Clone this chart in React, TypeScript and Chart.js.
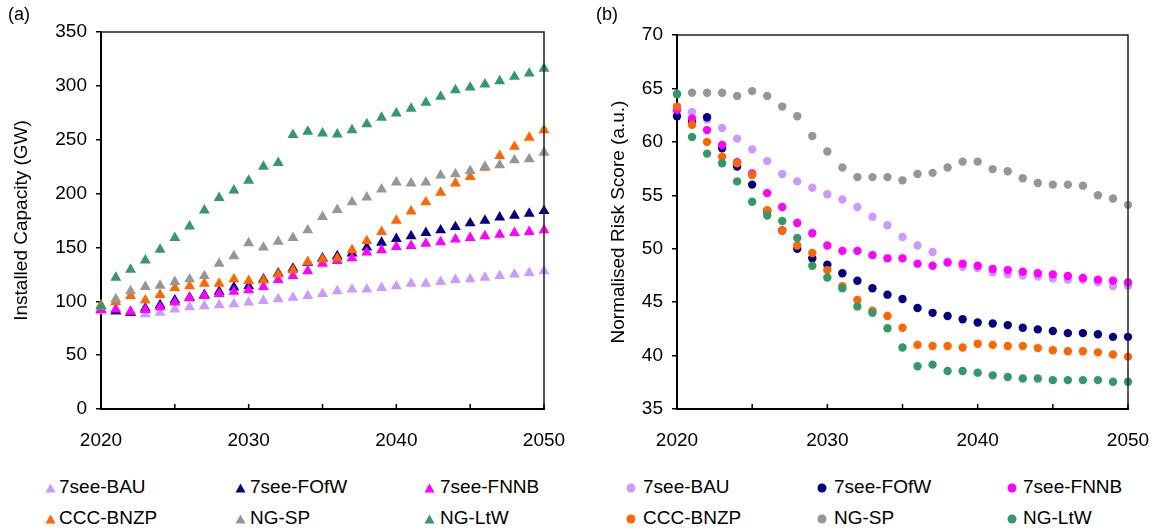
import React, { useEffect, useRef } from "react";
import { Chart, registerables } from "chart.js";

Chart.register(...registerables);

// ---------- data ----------
const years = [
  2020, 2021, 2022, 2023, 2024, 2025, 2026, 2027, 2028, 2029, 2030,
  2031, 2032, 2033, 2034, 2035, 2036, 2037, 2038, 2039, 2040,
  2041, 2042, 2043, 2044, 2045, 2046, 2047, 2048, 2049, 2050,
];

const seriesNames = ["7see-BAU", "7see-FOfW", "7see-FNNB", "CCC-BNZP", "NG-SP", "NG-LtW"];
const seriesColors = ["#CC99FF", "#000080", "#FF00FF", "#FF6600", "#969696", "#339966"];

// (a) Installed Capacity (GW)
const capBAU = [91, 90.5, 89, 88, 89.5, 92.5, 94.5, 95.5, 96.5, 97.5, 99, 100.5, 102, 103.5, 105, 107, 109.5, 111, 111, 112.5, 114, 116.5, 116.5, 118, 120, 120.5, 122, 123.5, 125, 126.5, 128];
const capFOfW = [92, 91, 89.5, 93.5, 96.5, 101, 103.5, 106, 109, 113, 114, 120.5, 126, 130.5, 136, 140, 142, 144.5, 150, 154.5, 158, 160.5, 163.5, 166, 169, 172.5, 175, 178, 179.5, 181.5, 184];
const capFNNB = [92, 92.5, 90.5, 92, 94.5, 99, 103, 105, 107, 109, 110.5, 113.5, 120, 123.5, 128, 135, 137.5, 140, 145.5, 147.5, 150.5, 151.5, 153.5, 155, 157.5, 159, 160.5, 162, 163.5, 164.5, 166];
const capBNZP = [96.5, 99.5, 105, 101, 106, 112.5, 114, 116.5, 116.5, 120.5, 119, 119.5, 125, 129, 136.5, 139, 140, 147.5, 156, 164.5, 175, 183.5, 192, 201, 209.5, 215.5, 224, 235, 243.5, 252, 259];
const capSP = [95, 102, 109.5, 113.5, 114.5, 118, 120.5, 123.5, 135, 142, 154, 150, 155.5, 159, 166, 178.5, 185, 192, 196.5, 204, 210.5, 209.5, 210.5, 217, 218, 221, 225, 226.5, 231, 232, 238];
const capLtW = [95.5, 122, 129.5, 138, 148, 159, 169.5, 184.5, 196, 203, 212, 225, 228.5, 254.5, 257.5, 256, 255, 259, 264.5, 270.5, 274.5, 279, 284.5, 290, 296, 298.5, 301.5, 304.5, 308.5, 311.5, 316];

// (b) Normalised Risk Score (a.u.)
const riskBAU = [62.9, 62.8, 62.1, 61.3, 60.3, 59.3, 58.2, 57.0, 56.3, 55.7, 55.1, 54.6, 53.9, 53.0, 52.2, 51.1, 50.3, 49.7, 48.8, 48.3, 48.2, 47.8, 47.6, 47.5, 47.4, 47.2, 47.1, 47.1, 46.85, 46.5, 46.5];
const riskFOfW = [62.4, 61.9, 62.3, 59.4, 57.7, 56.0, 53.5, 51.7, 50.0, 49.1, 48.5, 47.7, 47.0, 46.3, 45.7, 45.3, 44.45, 44.0, 43.7, 43.4, 43.1, 43.0, 42.85, 42.6, 42.45, 42.3, 42.1, 42.1, 42.0, 41.75, 41.75];
const riskFNNB = [63.0, 62.2, 61.1, 59.7, 58.1, 57.05, 55.2, 53.9, 52.4, 51.45, 50.3, 49.8, 49.8, 49.4, 49.1, 49.1, 48.6, 48.4, 48.7, 48.6, 48.4, 48.1, 48.0, 47.85, 47.7, 47.6, 47.45, 47.26, 47.1, 47.0, 46.85];
const riskBNZP = [63.3, 61.6, 60.0, 58.6, 58.0, 56.9, 53.6, 51.7, 50.3, 49.6, 48.0, 46.5, 45.2, 44.2, 43.7, 42.6, 41.0, 40.9, 40.9, 40.75, 41.1, 41.0, 40.9, 40.9, 40.7, 40.5, 40.4, 40.4, 40.3, 40.1, 39.9];
const riskSP = [64.5, 64.6, 64.6, 64.6, 64.3, 64.75, 64.3, 63.3, 62.4, 60.55, 59.1, 57.6, 56.7, 56.7, 56.7, 56.4, 57.0, 57.1, 57.6, 58.15, 58.15, 57.45, 57.25, 56.6, 56.15, 56.0, 56.0, 55.9, 55.0, 54.7, 54.1];
const riskLtW = [64.45, 60.45, 58.9, 58.0, 56.3, 54.4, 53.1, 52.6, 51.0, 48.4, 47.3, 46.3, 44.6, 44.0, 42.55, 40.75, 39.0, 39.15, 38.55, 38.55, 38.4, 38.15, 38.0, 37.85, 37.85, 37.7, 37.7, 37.7, 37.7, 37.55, 37.55];

const xTickMarks = [2020, 2025, 2030, 2035, 2040, 2045, 2050];

const capSeries = [capBAU, capFOfW, capFNNB, capBNZP, capSP, capLtW];
const riskSeries = [riskBAU, riskFOfW, riskFNNB, riskBNZP, riskSP, riskLtW];

// ---------- style ----------
const FONT = '"Liberation Sans", Arial, Helvetica, sans-serif';
const FS = 19;

const framePlugin = {
  id: "frame",
  afterDatasetsDraw(chart: any) {
    const { ctx, chartArea: a, scales } = chart;
    ctx.save();
    ctx.strokeStyle = "#222";
    ctx.lineWidth = 1.5;
    ctx.beginPath();
    ctx.moveTo(a.left, a.top);
    ctx.lineTo(a.right, a.top);
    ctx.lineTo(a.right, a.bottom);
    ctx.stroke();
    ctx.strokeStyle = "#000";
    ctx.lineWidth = 1.5;
    for (const v of xTickMarks) {
      const px = scales.x.getPixelForValue(v);
      ctx.beginPath();
      ctx.moveTo(px, a.bottom);
      ctx.lineTo(px, a.bottom - 5);
      ctx.stroke();
    }
    ctx.restore();
  },
};

function makeConfig(
  series: number[][],
  pointStyle: string,
  radius: number,
  yMin: number,
  yMax: number,
  yStep: number,
  yTitle: string,
  yWidth: number,
  titlePad: number,
  pad: { top: number; right: number }
): any {
  return {
    type: "scatter",
    data: {
      datasets: series.map((vals, i) => ({
        label: seriesNames[i],
        data: years.map((yr, j) => ({ x: yr, y: vals[j] })),
        pointStyle,
        pointRadius: radius,
        pointHoverRadius: radius,
        backgroundColor: seriesColors[i],
        borderColor: seriesColors[i],
        borderWidth: 0,
        showLine: false,
        clip: false,
        order: 5 - i,
      })),
    },
    options: {
      responsive: false,
      animation: false,
      events: [],
      layout: { padding: { top: pad.top, right: pad.right, left: 0, bottom: 0 } },
      plugins: { legend: { display: false }, tooltip: { enabled: false } },
      scales: {
        x: {
          type: "linear",
          min: 2020,
          max: 2050,
          afterFit: (s: any) => {
            s.height = 51;
            s.paddingLeft = 0;
            s.paddingRight = 0;
          },
          ticks: {
            stepSize: 10,
            padding: 20,
            color: "#000",
            font: { family: FONT, size: FS },
            callback: (v: any) => String(v),
            maxRotation: 0,
          },
          grid: { display: false, drawTicks: false },
          border: { display: true, color: "#000", width: 2 },
        },
        y: {
          type: "linear",
          min: yMin,
          max: yMax,
          afterFit: (s: any) => {
            s.width = yWidth;
            s.paddingTop = 0;
            s.paddingBottom = 0;
          },
          ticks: {
            stepSize: yStep,
            padding: 9,
            color: "#000",
            font: { family: FONT, size: FS },
            callback: (v: any) => String(v),
          },
          grid: {
            display: true,
            drawOnChartArea: false,
            drawTicks: true,
            tickLength: 5,
            color: "#000",
            lineWidth: 1.5,
          },
          border: { display: true, color: "#000", width: 2 },
          title: {
            display: true,
            text: yTitle,
            color: "#000",
            font: { family: FONT, size: FS },
            padding: { top: titlePad, bottom: 0 },
          },
        },
      },
    },
    plugins: [framePlugin],
  };
}

function ChartCanvas({ config, left, width, height }: any) {
  const ref = useRef<HTMLCanvasElement | null>(null);
  useEffect(() => {
    if (!ref.current) return;
    const chart = new Chart(ref.current, config);
    return () => chart.destroy();
  }, []);
  return (
    <canvas
      ref={ref}
      width={width}
      height={height}
      style={{ position: "absolute", left, top: 0, width, height }}
    />
  );
}

function Marker({ kind, color }: { kind: string; color: string }) {
  if (kind === "triangle") {
    return (
      <svg width="11" height="10" viewBox="0 0 11 10" style={{ display: "block" }}>
        <polygon points="5.5,0.5 10.5,9.5 0.5,9.5" fill={color} />
      </svg>
    );
  }
  return (
    <svg width="10" height="10" viewBox="0 0 10 10" style={{ display: "block" }}>
      <circle cx="5" cy="5" r="4.5" fill={color} />
    </svg>
  );
}

function Legend({ kind, markerX, textX }: { kind: string; markerX: number[]; textX: number[] }) {
  const rowsY = [487, 518];
  return (
    <>
      {seriesNames.map((name, i) => {
        const col = i % 3;
        const row = Math.floor(i / 3);
        return (
          <React.Fragment key={name}>
            <div
              style={{
                position: "absolute",
                left: markerX[col] - 5.5,
                top: rowsY[row] - 4,
              }}
            >
              <Marker kind={kind} color={seriesColors[i]} />
            </div>
            <div
              style={{
                position: "absolute",
                left: textX[col],
                top: rowsY[row] - 11,
                height: 22,
                lineHeight: "22px",
                fontFamily: FONT,
                fontSize: FS,
                color: "#000",
                whiteSpace: "nowrap",
              }}
            >
              {name}
            </div>
          </React.Fragment>
        );
      })}
    </>
  );
}

export default function App() {
  const cfgA = makeConfig(capSeries, "triangle", 6.3, 0, 350, 50, "Installed Capacity (GW)", 101, 10.5, { top: 32, right: 36 });
  const cfgB = makeConfig(riskSeries, "circle", 4.2, 35, 70, 5, "Normalised Risk Score (a.u.)", 97, 27.5, { top: 35, right: 26 });
  return (
    <div style={{ position: "absolute", left: 0, top: 0, width: 1154, height: 531, background: "#fff", overflow: "hidden" }}>
      <ChartCanvas config={cfgA} left={0} width={580} height={460} />
      <ChartCanvas config={cfgB} left={580} width={574} height={460} />
      <div style={{ position: "absolute", left: 8, top: 4, fontFamily: FONT, fontSize: 18, color: "#000" }}>(a)</div>
      <div style={{ position: "absolute", left: 596, top: 4, fontFamily: FONT, fontSize: 18, color: "#000" }}>(b)</div>
      <Legend kind="triangle" markerX={[50, 240, 429]} textX={[59, 250, 440]} />
      <Legend kind="circle" markerX={[631, 822, 1012]} textX={[643, 834, 1023]} />
    </div>
  );
}
